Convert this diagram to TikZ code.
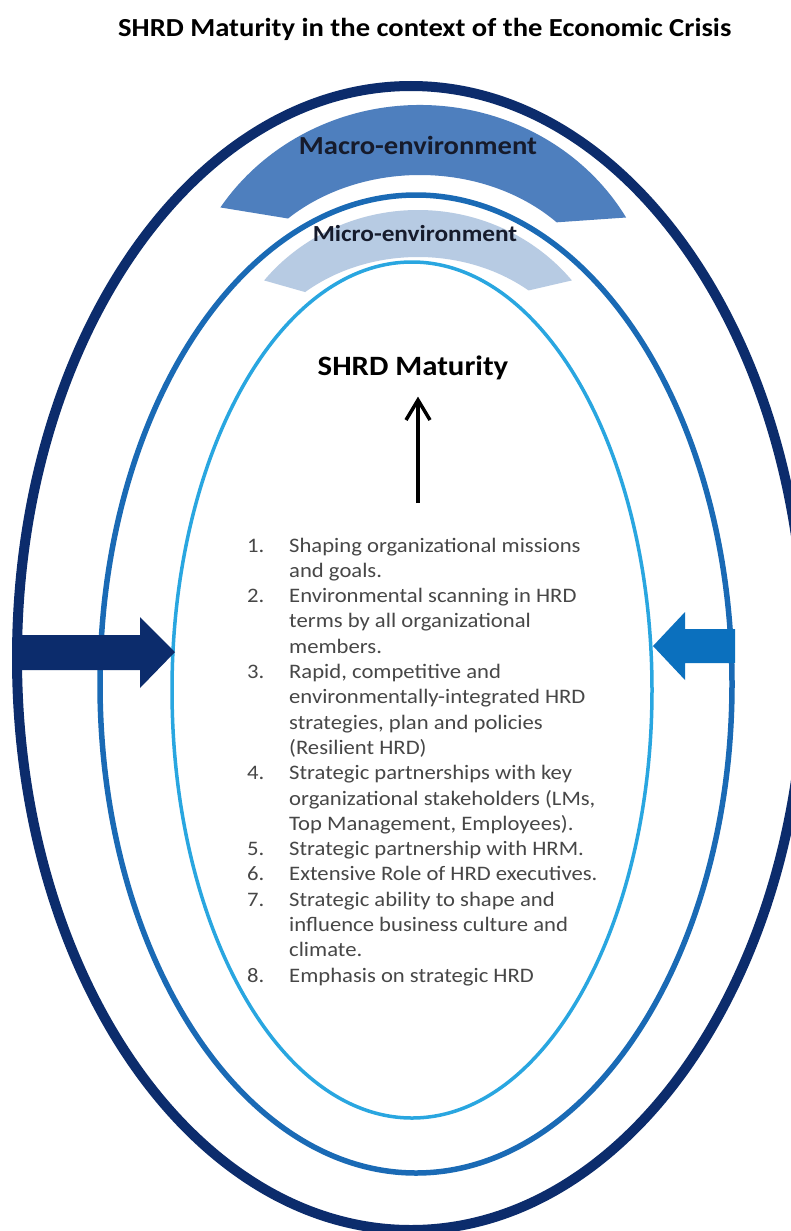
\documentclass[tikz,border=0pt]{standalone}
\usepackage{fontspec}
\setmainfont{Carlito}[FakeStretch = 1.1]
\usetikzlibrary{arrows.meta}
\definecolor{outerblue}{HTML}{0C2C6C}
\definecolor{midblue}{HTML}{1A6AB5}
\definecolor{innerblue}{HTML}{29A6E0}
\definecolor{arrowblue}{HTML}{0B70BE}
\definecolor{macroband}{HTML}{4E7FBE}
\definecolor{microband}{HTML}{B7CBE3}
\definecolor{headtext}{HTML}{161B2C}
\definecolor{listgrey}{HTML}{474747}

\begin{document}
\begin{tikzpicture}[x = 1pt, y = 1pt, heading/.style = {inner sep = 0, anchor = base, text = headtext}]
    \useasboundingbox (0,0) rectangle (791,-1231);
    \clip (0,0) rectangle (791,-1231);
    \fill[white] (0,0) rectangle (791,-1231);
    \node[heading, anchor = base west, text = black, font = \fontsize{26}{30}\selectfont\bfseries] (title) at (118,-37) {SHRD Maturity in the context of the Economic Crisis};

    \draw[outerblue, line width = 10] (411,-658) ellipse [x radius = 394pt, y radius = 572pt];
    \draw[midblue, line width = 5.5] (416,-684) ellipse [x radius = 316pt, y radius = 489pt];
    \draw[innerblue, line width = 3.5] (412,-690) ellipse [x radius = 240pt, y radius = 428pt];

    \coordinate (macro) at (420,-330);
    \fill[macroband] ([shift = {(30:238pt and 225pt)}]macro) arc [start angle = 30, end angle = 147, x radius = 238pt, y radius = 225pt]
        -- ([shift = {(134:190pt and 155pt)}]macro) arc [start angle = 134, end angle = 44, x radius = 190pt, y radius = 155pt] -- cycle;
    \coordinate (micro) at (418,-400);
    \fill[microband] ([shift = {(39:198pt and 190pt)}]micro) arc [start angle = 39, end angle = 141, x radius = 198pt, y radius = 190pt]
        -- ([shift = {(131:172pt and 143pt)}]micro) arc [start angle = 131, end angle = 50, x radius = 172pt, y radius = 143pt] -- cycle;

    \node[heading, font = \fontsize{26}{30}\selectfont\bfseries] (macrotext) at (418,-154) {Macro-environment};
    \node[heading, font = \fontsize{23}{28}\selectfont\bfseries] (microtext) at (415,-241) {Micro-environment};
    \node[heading, text = black, font = \fontsize{28}{32}\selectfont\bfseries] (maturity) at (413,-375) {SHRD Maturity};

    \fill[outerblue] (22,-635) -- (140,-635) -- (140,-617) -- (175,-652) -- (140,-688) -- (140,-670) -- (22,-670) -- cycle;
    \fill[arrowblue] (735,-629) -- (685,-629) -- (685,-612) -- (653,-646) -- (685,-680) -- (685,-663) -- (735,-663) -- cycle;

    \coordinate (foot) at (418,-503);
    \draw[line width = 3.5, -{Straight Barb[length = 20pt, width = 24pt]}, shorten >= 17pt] (foot) -- (foot |- maturity.south);

    \node[anchor = base west, inner sep = 0, text = listgrey, font = \fontsize{20.6}{25.3}\selectfont] (steps) at (247,-552) {%
        \begin{tabular}[t]{@{}p{42pt}@{}l@{}}
        1. & Shaping organizational missions\\
           & and goals.\\
        2. & Environmental scanning in HRD\\
           & terms by all organizational\\
           & members.\\
        3. & Rapid, competitive and\\
           & environmentally-integrated HRD\\
           & strategies, plan and policies\\
           & (Resilient HRD)\\
        4. & Strategic partnerships with key\\
           & organizational stakeholders (LMs,\\
           & Top Management, Employees).\\
        5. & Strategic partnership with HRM.\\
        6. & Extensive Role of HRD executives.\\
        7. & Strategic ability to shape and\\
           & influence business culture and\\
           & climate.\\
        8. & Emphasis on strategic HRD
        \end{tabular}};
\end{tikzpicture}
\end{document}
